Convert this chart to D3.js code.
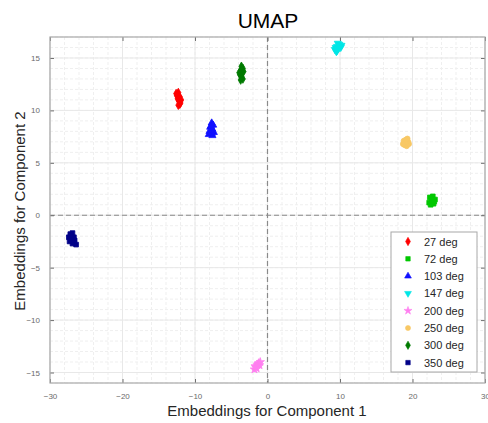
<!DOCTYPE html>
<html>
<head>
<meta charset="utf-8">
<script src="https://cdn.jsdelivr.net/npm/d3@7"></script>
<style>
  html, body { margin: 0; padding: 0; background: #fff; }
  svg { display: block; font-family: "Liberation Sans", Arial, Helvetica, sans-serif; }
</style>
</head>
<body>
<svg id="chart" width="488" height="423"></svg>
<script>
// Class labels, colours and marker shapes
const labels = ["27 deg", "72 deg", "103 deg", "147 deg", "200 deg", "250 deg", "300 deg", "350 deg"];
const colors = ["#ff0000", "#00c800", "#1010ff", "#00e6e6", "#ff7ff0", "#f8c865", "#007a00", "#000088"];
const shapes = ["diamond", "square", "triangleUp", "triangleDown", "star", "circle", "diamond", "square"];

// Embedded points per class: [component 1, component 2]
const pts27 = [[-12.3, 11.7], [-12.5, 11.4], [-12.1, 11.3], [-12.4, 11.1], [-12.2, 10.9], [-12.0, 10.7],
  [-12.3, 10.5], [-12.6, 11.6], [-11.9, 11.0], [-12.1, 10.6], [-12.4, 11.5], [-12.2, 11.2]];
const pts72 = [[22.4, 1.7], [22.8, 1.8], [23.1, 1.5], [22.6, 1.3], [22.9, 1.1], [22.3, 1.2],
  [23.0, 1.3], [22.7, 1.6], [22.5, 1.0], [22.8, 1.4]];
const pts103 = [[-7.7, 8.8], [-7.5, 8.6], [-7.9, 8.4], [-7.6, 8.2], [-8.0, 8.0], [-7.7, 7.8],
  [-7.4, 7.9], [-8.1, 7.7], [-7.8, 8.5], [-7.6, 7.6]];
const pts147 = [[9.3, 15.8], [9.6, 16.1], [9.9, 16.3], [10.2, 16.2], [9.5, 15.6], [9.8, 15.9],
  [10.1, 16.0], [9.4, 16.0], [9.7, 16.4], [9.6, 15.7]];
const pts200 = [[-1.8, -14.7], [-1.6, -14.5], [-1.4, -14.3], [-1.2, -14.1], [-1.0, -14.0],
  [-1.5, -14.6], [-1.3, -14.2], [-1.1, -14.3], [-1.7, -14.4]];
const pts250 = [[18.8, 7.1], [19.1, 7.2], [19.4, 7.0], [18.9, 6.7], [19.2, 6.6], [19.5, 6.8],
  [19.0, 6.9], [18.7, 6.8], [19.3, 7.3]];
const pts300 = [[-3.6, 14.2], [-3.4, 14.0], [-3.7, 13.8], [-3.5, 13.6], [-3.3, 13.7], [-3.8, 13.4],
  [-3.6, 13.2], [-3.4, 13.0], [-3.7, 12.9], [-3.5, 13.9], [-3.9, 13.6]];
const pts350 = [[-27.2, -1.8], [-26.9, -1.7], [-27.4, -2.1], [-27.0, -2.2], [-26.6, -2.4], [-27.3, -2.5],
  [-26.9, -2.7], [-26.4, -2.8], [-27.1, -2.4], [-26.7, -2.1]];
const series = [pts27, pts72, pts103, pts147, pts200, pts250, pts300, pts350];

// Axis ticks
const xTicks = [-30, -20, -10, 0, 10, 20, 30];
const yTicks = [-15, -10, -5, 0, 5, 10, 15];
const xMinor = d3.range(-30, 31, 2);
const yMinor = d3.range(-16, 18, 1);

const svg = d3.select("#chart");
const m = { left: 50, right: 485, top: 37, bottom: 383 };

const x = d3.scaleLinear().domain([-30, 30]).range([m.left, m.right]);
const y = d3.scaleLinear().domain([-16, 17]).range([m.bottom, m.top]);

// Grid: faint dashed minor lines, slightly stronger major lines
const grid = svg.append("g");
grid.selectAll(".gx").data(xMinor).join("line")
  .attr("x1", d => x(d)).attr("x2", d => x(d)).attr("y1", m.top).attr("y2", m.bottom)
  .attr("stroke", "#efefef").attr("stroke-width", 1).attr("stroke-dasharray", "3,2");
grid.selectAll(".gy").data(yMinor).join("line")
  .attr("y1", d => y(d)).attr("y2", d => y(d)).attr("x1", m.left).attr("x2", m.right)
  .attr("stroke", "#efefef").attr("stroke-width", 1).attr("stroke-dasharray", "3,2");
grid.selectAll(".mx").data(xTicks).join("line")
  .attr("x1", d => x(d)).attr("x2", d => x(d)).attr("y1", m.top).attr("y2", m.bottom)
  .attr("stroke", "#e8e8e8").attr("stroke-width", 1);
grid.selectAll(".my").data(yTicks).join("line")
  .attr("y1", d => y(d)).attr("y2", d => y(d)).attr("x1", m.left).attr("x2", m.right)
  .attr("stroke", "#e8e8e8").attr("stroke-width", 1);

// Zero reference lines
svg.append("line").attr("x1", x(0)).attr("x2", x(0)).attr("y1", m.top).attr("y2", m.bottom)
  .attr("stroke", "#8a8a8a").attr("stroke-width", 1.2).attr("stroke-dasharray", "5,3");
svg.append("line").attr("y1", y(0)).attr("y2", y(0)).attr("x1", m.left).attr("x2", m.right)
  .attr("stroke", "#8a8a8a").attr("stroke-width", 1.2).attr("stroke-dasharray", "5,3");

// Axes with inward ticks on all sides
function styleAxis(g) {
  g.select(".domain").remove();
  g.selectAll(".tick line").attr("stroke", "#707070");
  g.selectAll(".tick text").attr("fill", "#6a6a6a").style("font-size", "8px");
}
svg.append("g").attr("transform", `translate(0,${m.bottom})`)
  .call(d3.axisBottom(x).tickValues(xTicks).tickSizeInner(-4).tickSizeOuter(0).tickPadding(10))
  .call(styleAxis);
svg.append("g").attr("transform", `translate(0,${m.top})`)
  .call(d3.axisTop(x).tickValues(xTicks).tickSizeInner(-4).tickSizeOuter(0).tickFormat(""))
  .call(styleAxis);
svg.append("g").attr("transform", `translate(${m.left},0)`)
  .call(d3.axisLeft(y).tickValues(yTicks).tickSizeInner(-4).tickSizeOuter(0).tickPadding(10))
  .call(styleAxis);
svg.append("g").attr("transform", `translate(${m.right},0)`)
  .call(d3.axisRight(y).tickValues(yTicks).tickSizeInner(-4).tickSizeOuter(0).tickFormat(""))
  .call(styleAxis);

// Frame
svg.append("rect").attr("x", m.left).attr("y", m.top).attr("width", m.right - m.left).attr("height", m.bottom - m.top)
  .attr("fill", "none").attr("stroke", "#a8a8a8").attr("stroke-width", 1.2);

// Marker generator
function markerPath(shape, size) {
  if (shape === "triangleDown") return d3.symbol(d3.symbolTriangle, size)();
  const map = { diamond: d3.symbolDiamond, square: d3.symbolSquare, triangleUp: d3.symbolTriangle,
    star: d3.symbolStar, circle: d3.symbolCircle };
  return d3.symbol(map[shape], size)();
}
function markerTransform(shape, cx, cy) {
  return shape === "triangleDown" ? `translate(${cx},${cy}) rotate(180)` : `translate(${cx},${cy})`;
}

// Points
const plot = svg.append("g");
series.forEach((pts, i) => {
  plot.selectAll(null).data(pts).join("path")
    .attr("d", markerPath(shapes[i], 22))
    .attr("transform", d => markerTransform(shapes[i], x(d[0]), y(d[1])))
    .attr("fill", colors[i]).attr("stroke", colors[i]).attr("stroke-width", 0.8);
});

// Legend
const lg = svg.append("g");
lg.append("rect").attr("x", 391).attr("y", 232).attr("width", 86).attr("height", 140)
  .attr("fill", "#fff").attr("stroke", "#a8a8a8").attr("stroke-width", 1);
labels.forEach((lab, i) => {
  const cy = 241.5 + i * 17.3;
  lg.append("path").attr("d", markerPath(shapes[i], 20))
    .attr("transform", markerTransform(shapes[i], 408, cy))
    .attr("fill", colors[i]).attr("stroke", colors[i]).attr("stroke-width", 0.6);
  lg.append("text").attr("x", 424).attr("y", cy + 4).text(lab)
    .attr("fill", "#262626").style("font-size", "11px");
});

// Title and axis labels
svg.append("text").attr("x", 268).attr("y", 28).attr("text-anchor", "middle")
  .style("font-size", "21px").attr("fill", "#000").text("UMAP");
svg.append("text").attr("x", 267).attr("y", 416).attr("text-anchor", "middle")
  .style("font-size", "15px").attr("fill", "#262626").text("Embeddings for Component 1");
svg.append("text").attr("transform", "translate(25,211) rotate(-90)").attr("text-anchor", "middle")
  .style("font-size", "15px").attr("fill", "#262626").text("Embeddings for Component 2");
</script>
</body>
</html>
